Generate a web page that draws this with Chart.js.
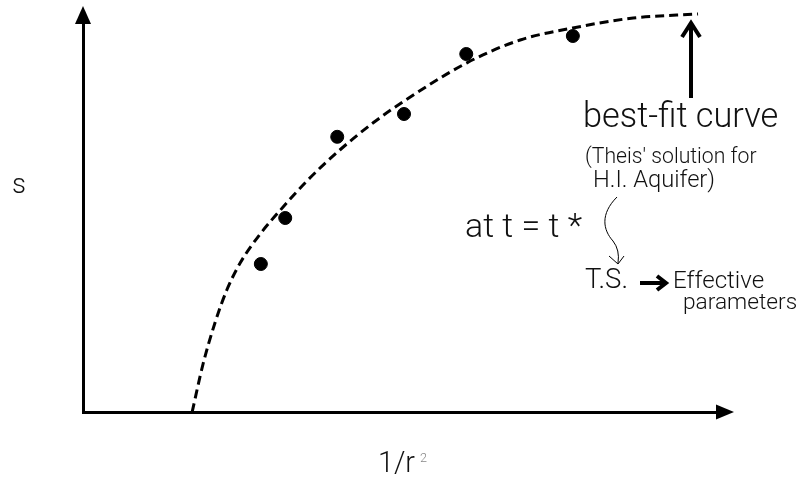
<!DOCTYPE html>
<html>
<head>
<meta charset="utf-8">
<title>s vs 1/r2</title>
<script src="https://cdn.jsdelivr.net/npm/chart.js@4"></script>
<style>
    html, body { margin: 0; padding: 0; background: #fff; }
    #wrap { width: 802px; height: 480px; }
</style>
</head>
<body>
<div id="wrap"><canvas id="grafica" width="802" height="480"></canvas></div>
<script>
// medidas de campo (1/r^2, s)
const puntosX = [2.77, 3.15, 3.96, 5.00, 5.97, 7.63];
const puntosY = [3.70, 4.85, 6.88, 7.45, 8.95, 9.40];

// curva de mejor ajuste (Theis)
const curvaX = [1.70, 1.87, 2.06, 2.24, 2.45, 2.76, 3.12, 3.49, 4.00, 4.52, 4.98, 5.98, 6.81, 7.63, 8.57, 9.58];
const curvaY = [0.00, 1.20, 2.25, 3.05, 3.73, 4.45, 5.13, 5.78, 6.55, 7.23, 7.75, 8.73, 9.30, 9.60, 9.85, 9.95];

const ejeMin = 0;
const ejeMax = 10;

const fuente = 'Roboto, "Liberation Sans", Arial, sans-serif';

// escribe el texto ajustando el tamaño al ancho pedido
function texto(ctx, t, x, y, size, ancho, color) {
    ctx.font = "300 " + size + "px " + fuente;
    const w = ctx.measureText(t).width;
    const s = ancho ? size * ancho / w : size;
    ctx.font = "300 " + s.toFixed(1) + "px " + fuente;
    ctx.fillStyle = color || "#111";
    ctx.textAlign = "left";
    ctx.textBaseline = "alphabetic";
    ctx.fillText(t, x, y);
}

function linea(ctx, pts, ancho) {
    ctx.beginPath();
    ctx.moveTo(pts[0][0], pts[0][1]);
    for (let i = 1; i < pts.length; i++) ctx.lineTo(pts[i][0], pts[i][1]);
    ctx.lineWidth = ancho;
    ctx.stroke();
}

const anotaciones = {
    id: "anotaciones",
    afterDraw(chart) {
        const ctx = chart.ctx;
        const area = chart.chartArea;
        ctx.save();
        ctx.strokeStyle = "#000";
        ctx.fillStyle = "#000";
        ctx.lineCap = "butt";
        ctx.lineJoin = "miter";

        // puntas de flecha de los ejes
        ctx.beginPath();
        ctx.moveTo(area.left, area.top - 6);
        ctx.lineTo(area.left - 8, area.top + 12);
        ctx.lineTo(area.left + 8, area.top + 12);
        ctx.closePath();
        ctx.fill();

        ctx.beginPath();
        ctx.moveTo(area.right + 9, area.bottom);
        ctx.lineTo(area.right - 9, area.bottom - 7.5);
        ctx.lineTo(area.right - 9, area.bottom + 7.5);
        ctx.closePath();
        ctx.fill();

        // flecha hacia la curva
        linea(ctx, [[691, 98], [691, 24]], 4);
        linea(ctx, [[682, 37], [691, 23], [700, 37]], 4);

        // títulos de ejes
        texto(ctx, "s", 12, 193, 30, 14);
        texto(ctx, "1/r", 378, 472, 31, 37);
        texto(ctx, "2", 420, 462, 13, 7, "#888");

        texto(ctx, "best-fit curve", 583, 127, 34, 195);
        texto(ctx, "(Theis' solution for", 585, 163, 21, 172);
        texto(ctx, "H.I. Aquifer)", 593, 187, 22, 122);
        texto(ctx, "at t = t *", 465, 237, 33, 117);

        // flecha curva fina
        ctx.beginPath();
        ctx.moveTo(617, 197);
        ctx.bezierCurveTo(600, 214, 603, 230, 613, 241);
        ctx.quadraticCurveTo(620, 250, 618, 263);
        ctx.lineWidth = 1;
        ctx.stroke();
        linea(ctx, [[609, 256], [618, 264], [624, 256]], 1);

        texto(ctx, "T.S.", 585, 288, 23, 43);
        linea(ctx, [[640, 283], [664, 283]], 4);
        linea(ctx, [[657, 276], [666, 283], [657, 290]], 4);
        texto(ctx, "Effective", 673, 288, 23, 91);
        texto(ctx, "parameters", 683, 309, 23, 114);

        ctx.restore();
    }
};

const ctx = document.getElementById("grafica").getContext("2d");
const grafica = new Chart(ctx, {
    type: "scatter",
    data: {
        datasets: [{
            label: "curva",
            data: curvaX.map((x, i) => ({ x: x, y: curvaY[i] })),
            showLine: true,
            borderColor: "#000",
            borderWidth: 3,
            borderDash: [9, 5],
            pointRadius: 0,
            cubicInterpolationMode: "monotone",
            fill: false
        }, {
            label: "medidas",
            data: puntosX.map((x, i) => ({ x: x, y: puntosY[i] })),
            backgroundColor: "#000",
            borderColor: "#000",
            pointRadius: 6.5,
            showLine: false
        }]
    },
    options: {
        responsive: false,
        animation: false,
        devicePixelRatio: 1,
        layout: { padding: { left: 75, top: 12, right: 77, bottom: 60 } },
        plugins: {
            legend: { display: false },
            tooltip: { enabled: false }
        },
        scales: {
            x: {
                type: "linear",
                min: ejeMin,
                max: ejeMax,
                grid: { display: false },
                ticks: { display: false },
                border: { display: true, color: "#000", width: 3 }
            },
            y: {
                type: "linear",
                min: ejeMin,
                max: ejeMax,
                grid: { display: false },
                ticks: { display: false },
                border: { display: true, color: "#000", width: 3 }
            }
        }
    },
    plugins: [anotaciones]
});
</script>
</body>
</html>
